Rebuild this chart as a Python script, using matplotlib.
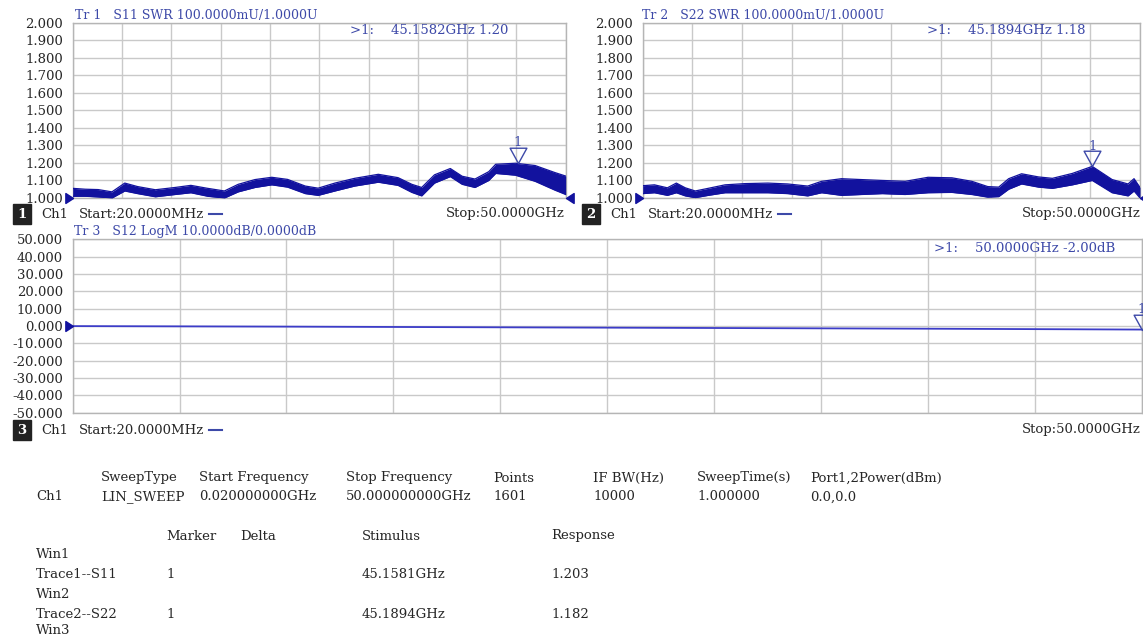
import matplotlib
matplotlib.use("Agg")
import matplotlib.pyplot as plt
import numpy as np
from matplotlib.path import Path

# ---------------- data ----------------
s11_freq = [0.02, 1.3, 2.6, 4.0, 5.3, 6.6, 8.4, 10.4, 12.0, 13.7, 15.4, 16.8, 18.5, 20.2, 21.8,
            23.6, 24.9, 26.6, 28.6, 31.0, 33.0, 34.4, 35.4, 36.7, 38.3, 39.5, 40.8, 42.2, 42.9,
            44.9, 46.9, 48.9, 50.0]
s11_upper = [1.055, 1.050, 1.048, 1.035, 1.085, 1.065, 1.047, 1.060, 1.072, 1.055, 1.040, 1.078,
             1.105, 1.118, 1.106, 1.068, 1.056, 1.085, 1.112, 1.135, 1.116, 1.078, 1.060, 1.132,
             1.168, 1.124, 1.108, 1.150, 1.192, 1.198, 1.185, 1.145, 1.125]
s11_lower = [1.010, 1.010, 1.006, 1.000, 1.040, 1.025, 1.007, 1.020, 1.030, 1.010, 1.000, 1.035,
             1.060, 1.075, 1.062, 1.025, 1.015, 1.040, 1.068, 1.090, 1.072, 1.032, 1.012, 1.085,
             1.122, 1.078, 1.060, 1.100, 1.140, 1.130, 1.095, 1.045, 1.020]

s22_freq = [0.02, 1.2, 2.5, 3.4, 4.3, 5.3, 6.6, 8.3, 10.3, 12.6, 14.6, 16.6, 18.0, 20.0, 22.0,
            24.1, 26.4, 28.7, 31.1, 33.1, 34.7, 35.8, 36.8, 38.1, 39.8, 41.2, 43.2, 45.2, 47.2,
            48.8, 49.4, 50.0]
s22_upper = [1.070, 1.075, 1.058, 1.085, 1.058, 1.040, 1.055, 1.075, 1.082, 1.085, 1.080, 1.068,
             1.095, 1.110, 1.105, 1.100, 1.095, 1.118, 1.115, 1.095, 1.065, 1.062, 1.110, 1.138,
             1.120, 1.112, 1.140, 1.180, 1.105, 1.080, 1.110, 1.060]
s22_lower = [1.025, 1.030, 1.015, 1.030, 1.012, 1.002, 1.015, 1.030, 1.030, 1.030, 1.025, 1.012,
             1.030, 1.015, 1.020, 1.025, 1.020, 1.030, 1.032, 1.020, 1.005, 1.008, 1.050, 1.080,
             1.062, 1.055, 1.075, 1.100, 1.030, 1.012, 1.040, 1.000]

s12_freq = [0.02, 10.0, 20.0, 30.0, 40.0, 50.0]
s12_db = [0.0, -0.3, -0.7, -1.1, -1.5, -2.0]

markers = {"S11": (45.1582, 1.20), "S22": (45.1894, 1.18), "S12": (50.0, -2.00)}

titles = ["Tr 1   S11 SWR 100.0000mU/1.0000U",
          "Tr 2   S22 SWR 100.0000mU/1.0000U",
          "Tr 3   S12 LogM 10.0000dB/0.0000dB"]
readouts = [">1:    45.1582GHz 1.20", ">1:    45.1894GHz 1.18", ">1:    50.0000GHz -2.00dB"]
start_label = "Start:20.0000MHz"
stop_label = "Stop:50.0000GHz"

swr_ticks = [1.0, 1.1, 1.2, 1.3, 1.4, 1.5, 1.6, 1.7, 1.8, 1.9, 2.0]
db_ticks = [-50, -40, -30, -20, -10, 0, 10, 20, 30, 40, 50]
f_start, f_stop = 0.02, 50.0

table_head = ["SweepType", "Start Frequency", "Stop Frequency", "Points", "IF BW(Hz)",
              "SweepTime(s)", "Port1,2Power(dBm)"]
table_row = ["LIN_SWEEP", "0.020000000GHz", "50.000000000GHz", "1601", "10000",
             "1.000000", "0.0,0.0"]
mk_head = ["Marker", "Delta", "Stimulus", "Response"]
mk_rows = [("Win1", None), ("Trace1--S11", ("1", "45.1581GHz", "1.203")),
           ("Win2", None), ("Trace2--S22", ("1", "45.1894GHz", "1.182")), ("Win3", None)]

# ---------------- style ----------------
W, H = 1143, 636
FONT = ["DejaVu Serif"]
plt.rcParams["font.family"] = FONT
TRACE = "#12129e"
BLUE_TXT = "#3d49a8"
GRID = "#c9c9c9"
SPINE = "#b5b5b5"
TXT = "#262626"
FS = 9.5

fig = plt.figure(figsize=(W / 100, H / 100), dpi=100)
fig.patch.set_facecolor("white")


def fx(x):
    return x / W


def fy(y):
    return 1 - y / H


def add_panel(left, top, right, bottom):
    return fig.add_axes([fx(left), fy(bottom), fx(right - left), (bottom - top) / H])


def style(ax, yt):
    ax.set_xlim(f_start, f_stop)
    ax.set_ylim(yt[0], yt[-1])
    ax.set_xticks(np.linspace(f_start, f_stop, 11))
    ax.set_xticklabels([])
    ax.set_yticks(yt)
    ax.set_yticklabels([f"{v:.3f}" for v in yt], fontsize=FS, color=TXT)
    ax.tick_params(length=0, pad=7)
    ax.grid(True, color=GRID, lw=1.0)
    ax.set_axisbelow(True)
    for s in ax.spines.values():
        s.set_color(SPINE)
        s.set_linewidth(1.0)


# marker paths (tip at origin)
tri_down = Path([(0, 0), (-0.55, 1.0), (0.55, 1.0), (0, 0)],
                [Path.MOVETO, Path.LINETO, Path.LINETO, Path.CLOSEPOLY])
ref_right = Path([(0, 0), (-1.0, -0.65), (-1.0, 0.65), (0, 0)],
                 [Path.MOVETO, Path.LINETO, Path.LINETO, Path.CLOSEPOLY])
ref_left = Path([(0, 0), (1.0, -0.65), (1.0, 0.65), (0, 0)],
                [Path.MOVETO, Path.LINETO, Path.LINETO, Path.CLOSEPOLY])


def draw_marker(ax, f, v, size=22):
    ax.plot([f], [v], marker=tri_down, ms=size, mfc="none", mec=BLUE_TXT, mew=1.0,
            clip_on=False, zorder=5)
    ax.annotate("1", (f, v), xytext=(0, 0.5 * size - 1), textcoords="offset points",
                ha="center", va="bottom", fontsize=FS, color=BLUE_TXT,
                annotation_clip=False)


# ---------------- panel 1 ----------------
ax1 = add_panel(72.7, 22.5, 565.7, 198)
style(ax1, swr_ticks)
ax1.fill_between(s11_freq, s11_lower, s11_upper, color=TRACE, lw=0, zorder=3)
ax1.plot(s11_freq, s11_upper, color=TRACE, lw=0.9, zorder=3)
ax1.plot(s11_freq, s11_lower, color=TRACE, lw=0.9, zorder=3)
draw_marker(ax1, *markers["S11"])
ax1.plot([f_start], [1.0], marker=ref_right, ms=11, color=TRACE, clip_on=False, zorder=6)
ax1.plot([f_stop], [1.0], marker=ref_left, ms=11, color=TRACE, clip_on=False, zorder=6)

# ---------------- panel 2 ----------------
ax2 = add_panel(642.7, 22.5, 1140, 198)
style(ax2, swr_ticks)
ax2.fill_between(s22_freq, s22_lower, s22_upper, color=TRACE, lw=0, zorder=3)
ax2.plot(s22_freq, s22_upper, color=TRACE, lw=0.9, zorder=3)
ax2.plot(s22_freq, s22_lower, color=TRACE, lw=0.9, zorder=3)
draw_marker(ax2, *markers["S22"])
ax2.plot([f_start], [1.0], marker=ref_right, ms=11, color=TRACE, clip_on=False, zorder=6)
ax2.plot([f_stop], [1.0], marker=ref_left, ms=11, color=TRACE, clip_on=False, zorder=6)

# ---------------- panel 3 ----------------
ax3 = add_panel(72.7, 239.5, 1141.7, 412.7)
style(ax3, db_ticks)
ax3.plot(s12_freq, s12_db, color="#3c3cc8", lw=1.3, zorder=3)
draw_marker(ax3, *markers["S12"])
ax3.plot([f_start], [0.0], marker=ref_right, ms=11, color=TRACE, clip_on=False, zorder=6)

# ---------------- annotations ----------------
for (x, y), t in zip([(75, 16), (642, 16), (74, 232)], titles):
    fig.text(fx(x), fy(y), t, fontsize=FS - 0.5, color=BLUE_TXT, ha="left", va="center")
for (x, y), t in zip([(350, 31), (927, 31), (934, 248)], readouts):
    fig.text(fx(x), fy(y), t, fontsize=FS, color=BLUE_TXT, ha="left", va="center")


def footer(num, xbox, y, xstop):
    fig.text(fx(xbox + 10), fy(y), num, fontsize=FS, color="white", ha="center",
             va="center", fontweight="bold",
             bbox=dict(boxstyle="square,pad=0.3", fc="#222222", ec="#222222"))
    fig.text(fx(xbox + 29), fy(y), "Ch1", fontsize=FS, color=TXT, ha="left", va="center")
    fig.text(fx(xbox + 67), fy(y), start_label, fontsize=FS, color=TXT,
             ha="left", va="center")
    fig.lines.append(plt.Line2D([fx(xbox + 197), fx(xbox + 210)], [fy(y), fy(y)],
                                transform=fig.transFigure, color=BLUE_TXT, lw=1.5))
    fig.text(fx(xstop), fy(y), stop_label, fontsize=FS, color=TXT, ha="right",
             va="center")


footer("1", 12, 214, 565)
footer("2", 581, 214, 1141)
footer("3", 12, 430, 1141)

# ---------------- settings table ----------------
col_x = [101, 199, 346, 493, 593, 697, 810]
for x, h, v in zip(col_x, table_head, table_row):
    fig.text(fx(x), fy(478), h, fontsize=FS, color=TXT, ha="left", va="center")
    fig.text(fx(x), fy(497), v, fontsize=FS, color=TXT, ha="left", va="center")
fig.text(fx(36), fy(497), "Ch1", fontsize=FS, color=TXT, ha="left", va="center")

mk_x = [166, 240, 362, 551]
for x, h in zip(mk_x, mk_head):
    fig.text(fx(x), fy(536), h, fontsize=FS, color=TXT, ha="left", va="center")
row_y = [555, 575, 594, 614, 631]
for y, (name, vals) in zip(row_y, mk_rows):
    fig.text(fx(36), fy(y), name, fontsize=FS, color=TXT, ha="left", va="center")
    if vals:
        for x, v in zip([166, 362, 551], vals):
            fig.text(fx(x), fy(y), v, fontsize=FS, color=TXT, ha="left", va="center")

fig.savefig("out.png", dpi=100)
